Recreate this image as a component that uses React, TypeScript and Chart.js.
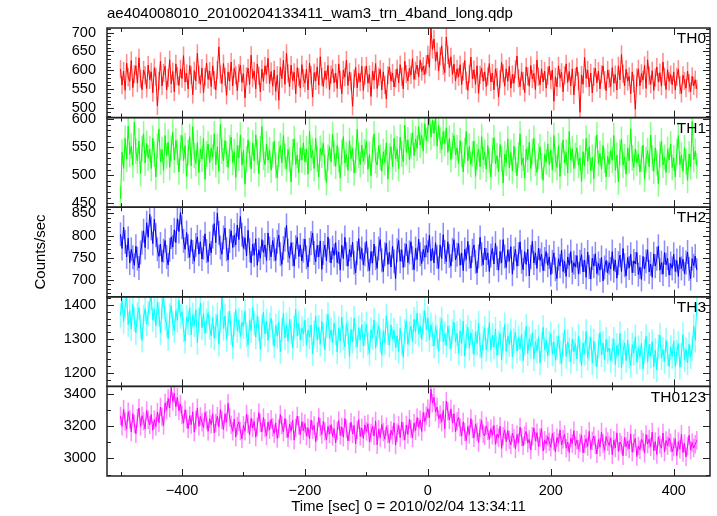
import React, { useEffect, useRef } from "react";
import { Chart, registerables } from "chart.js";

Chart.register(...registerables);

const TITLE = "ae404008010_20100204133411_wam3_trn_4band_long.qdp";
const X_TITLE = "Time [sec] 0 = 2010/02/04 13:34:11";
const Y_TITLE = "Counts/sec";

const bandNames = ["TH0", "TH1", "TH2", "TH3", "TH0123"];
const bandColors = ["#ff0000", "#00ff00", "#0000ff", "#00ffff", "#ff00ff"];
const errorColors = ["rgba(255,0,0,0.45)", "rgba(0,255,0,0.45)", "rgba(0,0,255,0.45)", "rgba(0,255,255,0.45)", "rgba(255,0,255,0.45)"];
const bandErrors = [24, 23, 27, 36, 57];

const binStart = -500;
const binWidth = 2.5;

const xMin = -522;
const xMax = 459;
const xMajor = 200;
const xMinor = 100;

const yMins = [475, 443, 662, 1160, 2891];
const yMaxs = [712, 603, 864, 1424, 3445];
const yMajor = [50, 50, 50, 100, 200];
const yMinor = [10, 10, 10, 20, 100];

const th0 = [
  603, 561, 598, 547, 619, 582, 571, 626, 554, 590, 612, 566, 633, 578, 549, 601, 587, 552, 614, 575,
  596, 541, 607, 583, 506, 572, 624, 559, 593, 611, 548, 580, 628, 564, 597, 543, 617, 585, 560, 604,
  578, 639, 569, 592, 551, 613, 587, 536, 599, 572, 645, 588, 563, 606, 541, 582, 619, 576, 598, 557,
  612, 574, 548, 601, 662, 589, 565, 618, 583, 534, 596, 571, 622, 559, 605, 587, 546, 593, 614, 568,
  591, 527, 584, 606, 562, 640, 579, 598, 551, 617, 586, 543, 603, 570, 612, 589, 632, 565, 597, 558,
  601, 544, 587, 521, 609, 578, 627, 563, 645, 592, 556, 614, 573, 595, 538, 607, 582, 553, 615, 579,
  566, 603, 548, 619, 587, 529, 594, 572, 609, 561, 636, 583, 557, 598, 576, 613, 549, 589, 604, 567,
  593, 552, 617, 575, 538, 601, 582, 627, 560, 596, 571, 505, 578, 608, 554, 592, 569, 611, 547, 586,
  612, 566, 589, 531, 598, 574, 618, 552, 583, 603, 548, 596, 561, 524, 587, 609, 572, 593, 556, 579,
  604, 567, 615, 583, 551, 624, 590, 572, 606, 588, 631, 576, 599, 614, 583, 627, 597, 611, 589, 616,
  641, 608, 712, 655, 683, 624, 649, 598, 637, 665, 612, 594, 688, 641, 607, 636, 589, 617, 572, 604,
  583, 615, 562, 597, 626, 573, 547, 591, 635, 577, 602, 563, 612, 539, 588, 606, 571, 596, 557, 584,
  618, 569, 593, 548, 604, 582, 529, 576, 621, 592, 558, 604, 571, 611, 553, 589, 566, 603, 638, 579,
  557, 596, 572, 541, 609, 584, 558, 613, 577, 592, 549, 627, 583, 562, 604, 569, 598, 553, 586, 611,
  574, 601, 518, 583, 556, 612, 579, 595, 543, 587, 617, 568, 597, 559, 604, 535, 582, 609, 572, 489,
  588, 563, 634, 579, 601, 556, 593, 540, 583, 606, 567, 598, 551, 589, 612, 574, 546, 601, 578, 557,
  607, 566, 589, 548, 612, 575, 642, 591, 559, 603, 571, 584, 538, 596, 565, 497, 581, 604, 559, 592,
  574, 613, 552, 628, 586, 563, 599, 547, 581, 609, 569, 594, 558, 622, 583, 549, 602, 571, 589, 562,
  596, 548, 583, 603, 561, 539, 587, 572, 553, 598, 566, 544, 584, 559, 575, 551,
];

const th1 = [
  458, 541, 512, 566, 529, 588, 537, 552, 518, 595, 543, 526, 561, 503, 548, 574, 522, 557, 531, 547,
  512, 566, 538, 497, 552, 583, 524, 546, 509, 571, 535, 559, 514, 548, 577, 527, 562, 541, 506, 549,
  571, 526, 553, 498, 541, 569, 517, 587, 536, 521, 558, 505, 547, 529, 566, 493, 538, 556, 522, 549,
  532, 574, 519, 551, 507, 591, 543, 526, 562, 538, 514, 549, 568, 523, 542, 496, 553, 531, 572, 518,
  544, 484, 529, 563, 537, 511, 558, 526, 572, 541, 503, 547, 587, 532, 519, 556, 527, 545, 509, 536,
  561, 518, 495, 538, 553, 522, 571, 534, 511, 546, 528, 488, 542, 565, 519, 536, 505, 549, 527, 558,
  524, 547, 502, 579, 531, 544, 512, 566, 529, 497, 548, 536, 557, 514, 487, 532, 551, 524, 573, 539,
  516, 553, 528, 495, 541, 569, 522, 537, 509, 562, 530, 548, 504, 527, 582, 536, 519, 554, 525, 542,
  561, 511, 537, 499, 546, 574, 526, 518, 553, 532, 507, 542, 523, 558, 493, 534, 551, 515, 566, 529,
  547, 512, 568, 538, 524, 589, 541, 563, 527, 552, 576, 535, 565, 548, 587, 554, 571, 543, 592, 562,
  583, 611, 568, 598, 575, 604, 552, 589, 562, 546, 578, 557, 585, 541, 566, 528, 553, 571, 536, 549,
  521, 562, 537, 506, 544, 578, 526, 552, 519, 538, 561, 498, 533, 547, 515, 569, 528, 541, 511, 553,
  526, 497, 544, 567, 521, 535, 506, 555, 529, 486, 538, 522, 565, 513, 541, 508, 552, 527, 499, 536,
  574, 518, 531, 495, 547, 528, 559, 512, 542, 566, 521, 505, 534, 551, 516, 491, 537, 524, 556, 519,
  545, 509, 571, 528, 514, 553, 498, 536, 563, 522, 541, 504, 578, 527, 547, 512, 535, 549, 518, 531,
  489, 542, 517, 566, 525, 551, 508, 532, 494, 547, 572, 521, 539, 511, 553, 526, 497, 534, 519, 544,
  527, 571, 509, 536, 488, 541, 564, 518, 533, 502, 549, 526, 583, 531, 514, 547, 522, 538, 506, 529,
  554, 493, 528, 544, 515, 572, 531, 507, 549, 523, 485, 537, 561, 518, 532, 505, 546, 527, 556, 514,
  531, 497, 542, 571, 519, 536, 507, 549, 524, 491, 538, 515, 596, 528, 543, 517,
];

const th2 = [
  803, 771, 819, 786, 752, 794, 738, 769, 751, 733, 776, 748, 727, 762, 784, 811, 773, 829, 796, 848,
  816, 782, 837, 801, 769, 753, 781, 741, 766, 789, 752, 734, 768, 797, 774, 813, 784, 838, 809, 852,
  819, 788, 769, 807, 776, 751, 791, 763, 742, 779, 797, 758, 786, 747, 773, 804, 765, 741, 782, 761,
  798, 827, 784, 851, 806, 773, 758, 796, 817, 769, 745, 788, 811, 773, 801, 779, 824, 791, 843, 802,
  771, 795, 754, 812, 767, 738, 781, 756, 793, 733, 768, 749, 791, 762, 779, 744, 806, 771, 752, 789,
  769, 744, 786, 801, 758, 735, 772, 791, 823, 766, 749, 784, 758, 731, 774, 796, 753, 779, 743, 766,
  792, 751, 729, 768, 783, 806, 761, 741, 778, 752, 788, 724, 761, 779, 743, 797, 766, 738, 773, 755,
  784, 739, 763, 722, 778, 748, 796, 758, 731, 769, 752, 785, 739, 716, 761, 793, 748, 771, 734, 758,
  787, 746, 721, 764, 738, 781, 749, 726, 771, 791, 744, 719, 758, 783, 735, 762, 729, 776, 742, 703,
  767, 789, 742, 768, 728, 756, 781, 739, 762, 786, 749, 723, 771, 746, 792, 758, 737, 769, 751, 778,
  762, 801, 743, 771, 738, 784, 752, 726, 779, 748, 802, 763, 741, 786, 754, 731, 768, 791, 745, 757,
  782, 733, 761, 721, 769, 746, 787, 752, 727, 766, 779, 741, 716, 753, 796, 758, 734, 772, 745, 761,
  719, 755, 771, 736, 783, 749, 722, 764, 738, 791, 753, 728, 768, 742, 775, 713, 749, 769, 731, 758,
  786, 741, 723, 764, 735, 769, 709, 752, 787, 738, 761, 726, 772, 744, 758, 721, 747, 764, 733, 752,
  712, 741, 761, 724, 703, 748, 731, 767, 719, 742, 708, 752, 733, 764, 717, 739, 729, 755, 713, 741,
  757, 718, 745, 706, 763, 729, 702, 749, 731, 759, 714, 737, 722, 751, 698, 728, 744, 716, 739, 725,
  764, 721, 745, 704, 738, 756, 719, 771, 733, 709, 751, 727, 758, 716, 743, 736, 762, 712, 729, 701,
  753, 725, 742, 768, 718, 736, 706, 759, 731, 748, 776, 722, 739, 713, 762, 734, 749, 711, 737, 726,
  758, 719, 744, 708, 751, 726, 747, 714, 739, 763, 725, 703, 748, 732, 754, 722,
];

const th3 = [
  1369, 1412, 1351, 1397, 1426, 1342, 1384, 1329, 1401, 1358, 1318, 1372, 1392, 1337, 1296, 1364, 1389, 1344, 1375, 1408,
  1421, 1356, 1388, 1339, 1408, 1372, 1317, 1394, 1427, 1361, 1342, 1301, 1369, 1398, 1346, 1324, 1383, 1355, 1415, 1366,
  1379, 1327, 1293, 1364, 1348, 1392, 1312, 1371, 1341, 1386, 1289, 1356, 1406, 1332, 1374, 1316, 1353, 1377, 1334, 1309,
  1362, 1302, 1339, 1371, 1284, 1352, 1425, 1331, 1368, 1298, 1345, 1382, 1318, 1276, 1343, 1386, 1324, 1355, 1307, 1349,
  1336, 1381, 1312, 1282, 1355, 1324, 1392, 1346, 1305, 1368, 1329, 1269, 1337, 1379, 1314, 1352, 1296, 1341, 1361, 1318,
  1278, 1339, 1308, 1349, 1262, 1327, 1376, 1303, 1342, 1293, 1358, 1322, 1274, 1333, 1387, 1309, 1346, 1297, 1331, 1314,
  1355, 1281, 1326, 1305, 1341, 1256, 1318, 1367, 1297, 1334, 1284, 1352, 1311, 1268, 1338, 1372, 1301, 1327, 1289, 1346,
  1318, 1261, 1331, 1294, 1364, 1303, 1277, 1345, 1319, 1248, 1328, 1292, 1361, 1309, 1276, 1333, 1297, 1342, 1279, 1315,
  1343, 1287, 1257, 1327, 1304, 1356, 1273, 1314, 1339, 1295, 1252, 1324, 1289, 1368, 1318, 1281, 1341, 1299, 1326, 1274,
  1309, 1263, 1331, 1287, 1246, 1322, 1353, 1284, 1316, 1337, 1292, 1358, 1321, 1376, 1314, 1339, 1298, 1348, 1383, 1327,
  1361, 1297, 1342, 1314, 1279, 1336, 1306, 1263, 1328, 1359, 1291, 1316, 1281, 1337, 1305, 1271, 1322, 1349, 1292, 1316,
  1258, 1324, 1286, 1352, 1249, 1307, 1334, 1272, 1318, 1293, 1254, 1321, 1287, 1346, 1279, 1246, 1302, 1331, 1268, 1297,
  1348, 1267, 1311, 1276, 1329, 1251, 1288, 1317, 1238, 1299, 1342, 1263, 1309, 1283, 1325, 1247, 1294, 1319, 1264, 1303,
  1271, 1314, 1236, 1289, 1337, 1256, 1301, 1277, 1318, 1241, 1292, 1264, 1306, 1229, 1283, 1334, 1268, 1296, 1251, 1287,
  1315, 1255, 1291, 1237, 1274, 1309, 1261, 1226, 1283, 1327, 1248, 1292, 1268, 1233, 1299, 1262, 1286, 1241, 1309, 1264,
  1221, 1288, 1257, 1322, 1243, 1271, 1304, 1229, 1294, 1255, 1218, 1279, 1319, 1253, 1287, 1238, 1299, 1262, 1273, 1236,
  1267, 1299, 1224, 1281, 1251, 1316, 1214, 1262, 1288, 1236, 1296, 1249, 1221, 1283, 1258, 1306, 1231, 1274, 1246, 1287,
  1212, 1263, 1308, 1231, 1284, 1249, 1292, 1218, 1267, 1209, 1277, 1311, 1244, 1269, 1233, 1296, 1256, 1219, 1275, 1248,
  1294, 1219, 1261, 1286, 1216, 1253, 1313, 1238, 1269, 1229, 1284, 1247, 1271, 1338, 1296, 1404,
];

const th0123 = [
  3262, 3198, 3304, 3227, 3181, 3289, 3241, 3163, 3276, 3214, 3152, 3248, 3311, 3197, 3264, 3229, 3183, 3296, 3238, 3206,
  3271, 3174, 3239, 3198, 3286, 3221, 3318, 3256, 3204, 3343, 3297, 3371, 3312, 3437, 3351, 3402, 3319, 3378, 3294, 3336,
  3268, 3217, 3301, 3243, 3183, 3264, 3209, 3288, 3162, 3237, 3312, 3198, 3259, 3223, 3191, 3284, 3236, 3167, 3245, 3209,
  3276, 3157, 3218, 3261, 3194, 3302, 3237, 3179, 3276, 3224, 3341, 3252, 3207, 3168, 3243, 3132, 3201, 3226, 3169, 3121,
  3204, 3168, 3274, 3213, 3146, 3248, 3187, 3229, 3131, 3196, 3283, 3219, 3164, 3252, 3188, 3139, 3224, 3176, 3241, 3192,
  3153, 3219, 3123, 3184, 3271, 3206, 3162, 3247, 3184, 3128, 3213, 3168, 3236, 3113, 3189, 3262, 3204, 3145, 3227, 3171,
  3216, 3137, 3189, 3121, 3237, 3176, 3204, 3102, 3168, 3253, 3192, 3148, 3229, 3167, 3114, 3198, 3151, 3208, 3136, 3183,
  3096, 3171, 3234, 3142, 3194, 3131, 3246, 3183, 3108, 3163, 3224, 3151, 3203, 3089, 3176, 3239, 3136, 3188, 3123, 3207,
  3167, 3214, 3101, 3156, 3199, 3138, 3232, 3084, 3181, 3129, 3209, 3162, 3118, 3196, 3151, 3097, 3173, 3143, 3219, 3082,
  3158, 3204, 3128, 3226, 3167, 3114, 3207, 3148, 3241, 3182, 3127, 3218, 3171, 3252, 3193, 3238, 3166, 3284, 3227, 3264,
  3307, 3251, 3428, 3341, 3378, 3286, 3318, 3243, 3271, 3224, 3297, 3183, 3354, 3291, 3238, 3306, 3218, 3276, 3163, 3229,
  3254, 3192, 3138, 3226, 3163, 3109, 3197, 3148, 3246, 3181, 3127, 3211, 3164, 3098, 3188, 3234, 3152, 3139, 3201, 3171,
  3117, 3184, 3142, 3203, 3087, 3151, 3128, 3198, 3061, 3137, 3176, 3103, 3172, 3114, 3083, 3156, 3124, 3059, 3147, 3098,
  3193, 3131, 3077, 3142, 3166, 3094, 3118, 3052, 3137, 3188, 3107, 3159, 3073, 3129, 3183, 3046, 3112, 3089, 3136, 3103,
  3068, 3154, 3106, 3041, 3129, 3097, 3176, 3082, 3118, 3148, 3063, 3101, 3037, 3126, 3092, 3171, 3079, 3113, 3057, 3096,
  3143, 3034, 3089, 3121, 3073, 3167, 3054, 3109, 3138, 3083, 3028, 3117, 3069, 3163, 3092, 3049, 3134, 3104, 3079, 3126,
  3022, 3112, 3064, 3158, 3043, 3101, 3083, 3016, 3129, 3072, 3106, 3058, 3151, 3038, 3094, 3124, 3011, 3077, 3053, 3118,
  3101, 3032, 3147, 3088, 3119, 3072, 3163, 3047, 3104, 3024, 3133, 3086, 3063, 3157, 3039, 3111, 3079, 3126, 3096, 3041,
  3071, 3121, 3016, 3104, 3057, 3149, 3036, 3092, 3009, 3075, 3143, 3051, 3098, 3064, 3087, 3112,
];

const bandValues = [th0, th1, th2, th3, th0123];

const FONT_FAMILY = "'Liberation Sans', Arial, Helvetica, sans-serif";
const FONT_SIZE = 14.5;

function tickValues(min: number, max: number, step: number) {
  const out: number[] = [];
  let v = Math.ceil(min / step) * step;
  for (; v <= max + 1e-9; v += step) out.push(v);
  return out;
}

const panelPlugin = {
  id: "qdpPanels",
  beforeDatasetDraw(chart: any, args: any) {
    const ctx = chart.ctx;
    const meta = args.meta;
    const ys = meta.yScale;
    const xs = meta.xScale;
    const area = chart.chartArea;
    ctx.save();
    ctx.beginPath();
    ctx.rect(area.left, ys.top, area.right - area.left, ys.bottom - ys.top);
    ctx.clip();
    const k = args.index;
    const err = bandErrors[k];
    const data = chart.data.datasets[k].data as { x: number; y: number }[];
    ctx.fillStyle = errorColors[k];
    const halfW = Math.abs(xs.getPixelForValue(binWidth) - xs.getPixelForValue(0)) * 0.5;
    for (const pt of data) {
      const px = xs.getPixelForValue(pt.x);
      const yTop = ys.getPixelForValue(pt.y + err);
      const yBot = ys.getPixelForValue(pt.y - err);
      ctx.fillRect(px - halfW, yTop, halfW * 2, yBot - yTop);
    }
  },
  afterDatasetDraw(chart: any) {
    chart.ctx.restore();
  },
  afterDraw(chart: any) {
    const ctx = chart.ctx;
    const area = chart.chartArea;
    const xs = chart.scales.x;
    ctx.save();
    ctx.strokeStyle = "#222";
    ctx.fillStyle = "#000";
    for (let k = 0; k < bandNames.length; k++) {
      const ys = chart.scales["y" + k];
      const top = ys.top;
      const bottom = ys.bottom;
      ctx.lineWidth = 1;
      ctx.beginPath();
      const yMajVals = tickValues(yMins[k], yMaxs[k], yMajor[k]);
      const yMinVals = tickValues(yMins[k], yMaxs[k], yMinor[k]);
      for (const v of yMinVals) {
        const isMaj = yMajVals.some((m) => Math.abs(m - v) < 1e-6);
        const len = isMaj ? 7 : 4;
        const py = Math.round(ys.getPixelForValue(v)) + 0.5;
        ctx.moveTo(area.left, py);
        ctx.lineTo(area.left + len, py);
        ctx.moveTo(area.right, py);
        ctx.lineTo(area.right - len, py);
      }
      const xMajVals = tickValues(xMin, xMax, xMajor);
      const xMinVals = tickValues(xMin, xMax, xMinor);
      for (const v of xMinVals) {
        const isMaj = xMajVals.some((m) => Math.abs(m - v) < 1e-6);
        const len = isMaj ? 7 : 4;
        const px = Math.round(xs.getPixelForValue(v)) + 0.5;
        ctx.moveTo(px, top);
        ctx.lineTo(px, top + len);
        ctx.moveTo(px, bottom);
        ctx.lineTo(px, bottom - len);
      }
      ctx.stroke();
      ctx.lineWidth = 1.5;
      ctx.strokeRect(area.left, top, area.right - area.left, bottom - top);
      ctx.font = `${FONT_SIZE + 1}px ${FONT_FAMILY}`;
      ctx.textAlign = "right";
      ctx.textBaseline = "middle";
      ctx.fillText(bandNames[k], area.right - 4, top + 11);
    }
    ctx.font = `${FONT_SIZE + 0.5}px ${FONT_FAMILY}`;
    ctx.textAlign = "left";
    ctx.textBaseline = "middle";
    ctx.fillText(TITLE, area.left, 14);
    ctx.textAlign = "center";
    ctx.fillText(X_TITLE, (area.left + area.right) / 2, 507);
    ctx.save();
    ctx.translate(41, (area.top + area.bottom) / 2);
    ctx.rotate(-Math.PI / 2);
    ctx.fillText(Y_TITLE, 0, 0);
    ctx.restore();
    ctx.restore();
  },
};

export default function App() {
  const canvasRef = useRef<HTMLCanvasElement | null>(null);

  useEffect(() => {
    const canvas = canvasRef.current;
    if (!canvas) return;
    const datasets = bandValues.map((vals, k) => ({
      label: bandNames[k],
      data: vals.map((v, i) => ({ x: binStart + i * binWidth, y: v })),
      yAxisID: "y" + k,
      xAxisID: "x",
      borderColor: bandColors[k],
      backgroundColor: bandColors[k],
      borderWidth: 1,
      pointRadius: 0,
      tension: 0,
      fill: false,
    }));
    const scales: any = {
      x: {
        type: "linear",
        position: "bottom",
        min: xMin,
        max: xMax,
        grid: { display: false, drawTicks: false },
        border: { display: false },
        afterBuildTicks: (s: any) => {
          s.ticks = tickValues(xMin, xMax, xMajor).map((v) => ({ value: v }));
        },
        ticks: {
          autoSkip: false,
          maxRotation: 0,
          padding: 6,
          color: "#000",
          font: { family: FONT_FAMILY, size: FONT_SIZE },
          callback: (v: any) => String(v).replace("-", "\u2212"),
        },
        afterFit: (s: any) => {
          s.height = 40;
        },
      },
    };
    bandNames.forEach((_, k) => {
      scales["y" + k] = {
        type: "linear",
        position: "left",
        stack: "panels",
        stackWeight: 1,
        weight: bandNames.length - k,
        min: yMins[k],
        max: yMaxs[k],
        grid: { display: false, drawTicks: false },
        border: { display: false },
        afterBuildTicks: (s: any) => {
          s.ticks = tickValues(yMins[k], yMaxs[k], yMajor[k]).map((v) => ({ value: v }));
        },
        ticks: {
          autoSkip: false,
          padding: 11,
          color: "#000",
          font: { family: FONT_FAMILY, size: FONT_SIZE },
          callback: (v: any) => String(v),
        },
        afterFit: (s: any) => {
          s.width = 107;
        },
      };
    });
    const chart = new Chart(canvas, {
      type: "line",
      data: { datasets },
      options: {
        responsive: false,
        animation: false,
        devicePixelRatio: 1,
        events: [],
        layout: { padding: { left: 0, top: 28, right: 7, bottom: 0 } },
        plugins: { legend: { display: false }, tooltip: { enabled: false }, title: { display: false } },
        scales,
      },
      plugins: [panelPlugin],
    } as any);
    return () => chart.destroy();
  }, []);

  return (
    <div style={{ position: "absolute", left: 0, top: 0, width: 717, height: 516, background: "#fff" }}>
      <canvas ref={canvasRef} width={717} height={516} style={{ width: 717, height: 516, display: "block" }} />
    </div>
  );
}
